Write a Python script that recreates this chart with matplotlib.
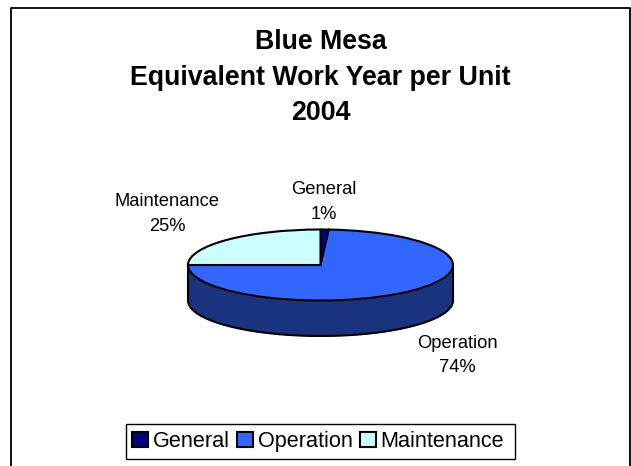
import numpy as np
import matplotlib
matplotlib.use("Agg")
import matplotlib.pyplot as plt
from matplotlib.lines import Line2D
from matplotlib.patches import Rectangle

plt.rcParams['font.family'] = ['Liberation Sans', 'DejaVu Sans']

labels = ["General", "Operation", "Maintenance"]
values = [1, 74, 25]
colors = ["#000080", "#3366FF", "#CCFFFF"]
sideColor = "#1A337F"
titleLines = ["Blue Mesa", "Equivalent Work Year per Unit", "2004"]

W, H = 631, 466
cx, cy, rx, ry = 320.5, 265, 132.5, 35.5
depth = 35.5

fig = plt.figure(figsize=(W / 100, H / 100), dpi=100, facecolor="white")
ax = fig.add_axes([0, 0, 1, 1])

# pie in unit circle, axes limits squash it to an ellipse
wedges, _ = ax.pie(values, colors=colors, startangle=90, counterclock=False,
                   wedgeprops={"edgecolor": "black", "linewidth": 1.5, "zorder": 3})

# side wall of the pie
t = np.linspace(np.pi, 2 * np.pi, 200)
d = depth / ry
ax.fill_between(np.cos(t), np.sin(t), np.sin(t) - d, color=sideColor, zorder=1, lw=0)
ax.plot(np.cos(t), np.sin(t) - d, color="black", lw=1.5, zorder=2)
ax.plot([-1, -1], [0, -d], color="black", lw=1.5, zorder=2)
ax.plot([1, 1], [0, -d], color="black", lw=1.5, zorder=2)

ax.set_aspect("auto")
ax.set_xlim((0 - cx) / rx, (W - cx) / rx)
ax.set_ylim((cy - H) / ry, cy / ry)
ax.axis("off")

def px(x, y):
    return x / W, 1 - y / H

# chart border, runs off the bottom of the image
border = [(10.5, H), (10.5, 8), (630, 8), (630, H)]
fig.add_artist(Line2D([px(*p)[0] for p in border], [px(*p)[1] for p in border],
                      color="black", lw=1.3))

for line, y in zip(titleLines, [42, 78, 112.5]):
    fig.text(*px(320.5, y), line, ha="center", va="center",
             fontsize=19.3, fontweight="bold")

dataLabels = [(324, 202), (457.5, 355.5), (167, 214)]
for name, v, pos in zip(labels, values, dataLabels):
    fig.text(*px(*pos), f"{name}\n{v}%", ha="center", va="center",
             fontsize=13.2, linespacing=1.55)

# legend frame drawn apart, the right margin is wider than the left
fig.add_artist(Rectangle(px(125.5, 459), 389.5 / W, 35 / H, transform=fig.transFigure,
                         facecolor="white", edgecolor="black", lw=1.0, zorder=1))
leg = fig.legend(wedges, labels, loc="center", bbox_to_anchor=px(318, 441.5),
                 ncol=3, fontsize=15.6, frameon=False, handlelength=0.75,
                 handleheight=0.75, handletextpad=0.2, columnspacing=0.35,
                 borderpad=0.3, borderaxespad=0)

fig.savefig("out.png", dpi=100)
